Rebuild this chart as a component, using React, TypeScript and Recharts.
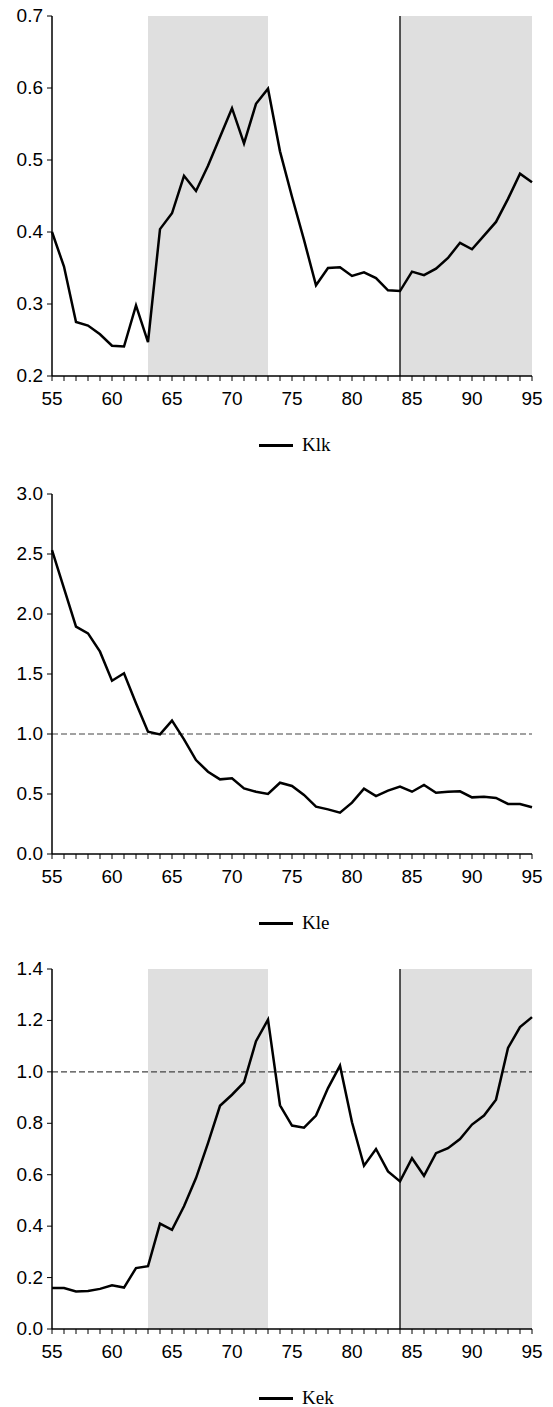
import React, { FC } from 'react';
import { LineChart, Line, XAxis, YAxis, ReferenceArea, ReferenceLine } from 'recharts';

const years = [
    55, 56, 57, 58, 59, 60, 61, 62, 63, 64, 65, 66, 67, 68, 69, 70, 71, 72, 73, 74, 75,
    76, 77, 78, 79, 80, 81, 82, 83, 84, 85, 86, 87, 88, 89, 90, 91, 92, 93, 94, 95,
];

const klk = [
    0.4, 0.352, 0.275, 0.27, 0.258, 0.242, 0.241, 0.298, 0.247, 0.404, 0.426, 0.478, 0.457,
    0.492, 0.532, 0.572, 0.523, 0.578, 0.599, 0.512, 0.449, 0.389, 0.326, 0.35, 0.351, 0.339,
    0.344, 0.336, 0.319, 0.318, 0.345, 0.34, 0.349, 0.364, 0.385, 0.376, 0.395, 0.414, 0.446,
    0.481, 0.469,
];

const kle = [
    2.533, 2.214, 1.894, 1.839, 1.686, 1.444, 1.506, 1.256, 1.019, 0.997, 1.111, 0.956, 0.783,
    0.686, 0.622, 0.631, 0.547, 0.519, 0.5, 0.594, 0.567, 0.492, 0.394, 0.372, 0.344, 0.428,
    0.544, 0.483, 0.528, 0.561, 0.519, 0.575, 0.511, 0.519, 0.522, 0.472, 0.478, 0.467, 0.417,
    0.417, 0.389,
];

const kek = [
    0.159, 0.159, 0.146, 0.148, 0.156, 0.17, 0.161, 0.237, 0.244, 0.41, 0.386, 0.477, 0.587,
    0.723, 0.868, 0.911, 0.959, 1.119, 1.203, 0.87, 0.791, 0.783, 0.83, 0.937, 1.024, 0.804,
    0.635, 0.7, 0.613, 0.574, 0.664, 0.596, 0.684, 0.703, 0.739, 0.795, 0.83, 0.892, 1.093,
    1.174, 1.213,
];

const klkTicks = [0.2, 0.3, 0.4, 0.5, 0.6, 0.7];
const kleTicks = [0, 0.5, 1, 1.5, 2, 2.5, 3];
const kekTicks = [0, 0.2, 0.4, 0.6, 0.8, 1, 1.2, 1.4];

const shaded = [
    [63, 73],
    [84, 95],
];
const breakYear = 84;

const sans = '"Liberation Sans", Arial, sans-serif';

// custom ticks so the font size is exactly what we want
const XTick = (props: any) => {
    const v = props.payload.value;
    if (v % 5 !== 0) return null;
    return (
        <text x={props.x} y={props.y + 24} textAnchor="middle" fontFamily={sans} fontSize={19} fill="#000">
            {v}
        </text>
    );
};

const YTick = (props: any) => (
    <text x={props.x} y={props.y + 6} textAnchor="end" fontFamily={sans} fontSize={19} fill="#000">
        {Number(props.payload.value).toFixed(1)}
    </text>
);

interface PanelProps {
    top: number;
    name: string;
    values: number[];
    yTicks: number[];
    shade?: boolean;
    refOne?: boolean;
}

const Legend: FC<{ name: string }> = ({ name }) => (
    <div
        style={{
            position: 'absolute',
            top: 433,
            left: 259,
            display: 'flex',
            alignItems: 'center',
            fontFamily: '"Liberation Serif", "Times New Roman", serif',
            fontSize: 19,
            color: '#000',
            lineHeight: '24px',
        }}
    >
        <span style={{ display: 'inline-block', width: 34, height: 3, background: '#000', marginRight: 9 }} />
        <span>{name}</span>
    </div>
);

const Panel: FC<PanelProps> = ({ top, name, values, yTicks, shade, refOne }) => {
    const data = years.map((y, i) => ({ year: y, value: values[i] }));
    return (
        <div style={{ position: 'absolute', left: 0, top, width: 553 }}>
            <LineChart width={553} height={410} data={data} margin={{ top: 16, right: 21, bottom: 3, left: 0 }}>
                {shade &&
                    shaded.map(([a, b]) => (
                        <ReferenceArea key={a} x1={a} x2={b} fill="#dfdfdf" fillOpacity={1} stroke="none" ifOverflow="hidden" />
                    ))}
                {shade && <ReferenceLine x={breakYear} stroke="#000" strokeWidth={1.3} />}
                {refOne && <ReferenceLine y={1} stroke="#444" strokeDasharray="6 3" strokeWidth={1.2} />}
                <XAxis
                    dataKey="year"
                    type="number"
                    domain={[55, 95]}
                    ticks={years}
                    interval={0}
                    tick={<XTick />}
                    tickSize={5}
                    tickMargin={0}
                    height={31}
                    axisLine={{ stroke: '#000', strokeWidth: 1.5 }}
                    tickLine={{ stroke: '#000', strokeWidth: 1 }}
                />
                <YAxis
                    type="number"
                    domain={[yTicks[0], yTicks[yTicks.length - 1]]}
                    ticks={yTicks}
                    interval={0}
                    tick={<YTick />}
                    tickSize={5}
                    tickMargin={4}
                    width={52}
                    axisLine={{ stroke: '#000', strokeWidth: 1.5 }}
                    tickLine={{ stroke: '#000', strokeWidth: 1 }}
                />
                <Line
                    type="linear"
                    dataKey="value"
                    stroke="#000"
                    strokeWidth={2.5}
                    dot={false}
                    activeDot={false}
                    isAnimationActive={false}
                />
            </LineChart>
            <Legend name={name} />
        </div>
    );
};

const App: FC = () => {
    return (
        <div style={{ position: 'absolute', left: 0, top: 0, width: 553, height: 1407, background: '#fff' }}>
            <Panel top={0} name="Klk" values={klk} yTicks={klkTicks} shade />
            <Panel top={478} name="Kle" values={kle} yTicks={kleTicks} refOne />
            <Panel top={953} name="Kek" values={kek} yTicks={kekTicks} shade refOne />
        </div>
    );
};

export default App;
